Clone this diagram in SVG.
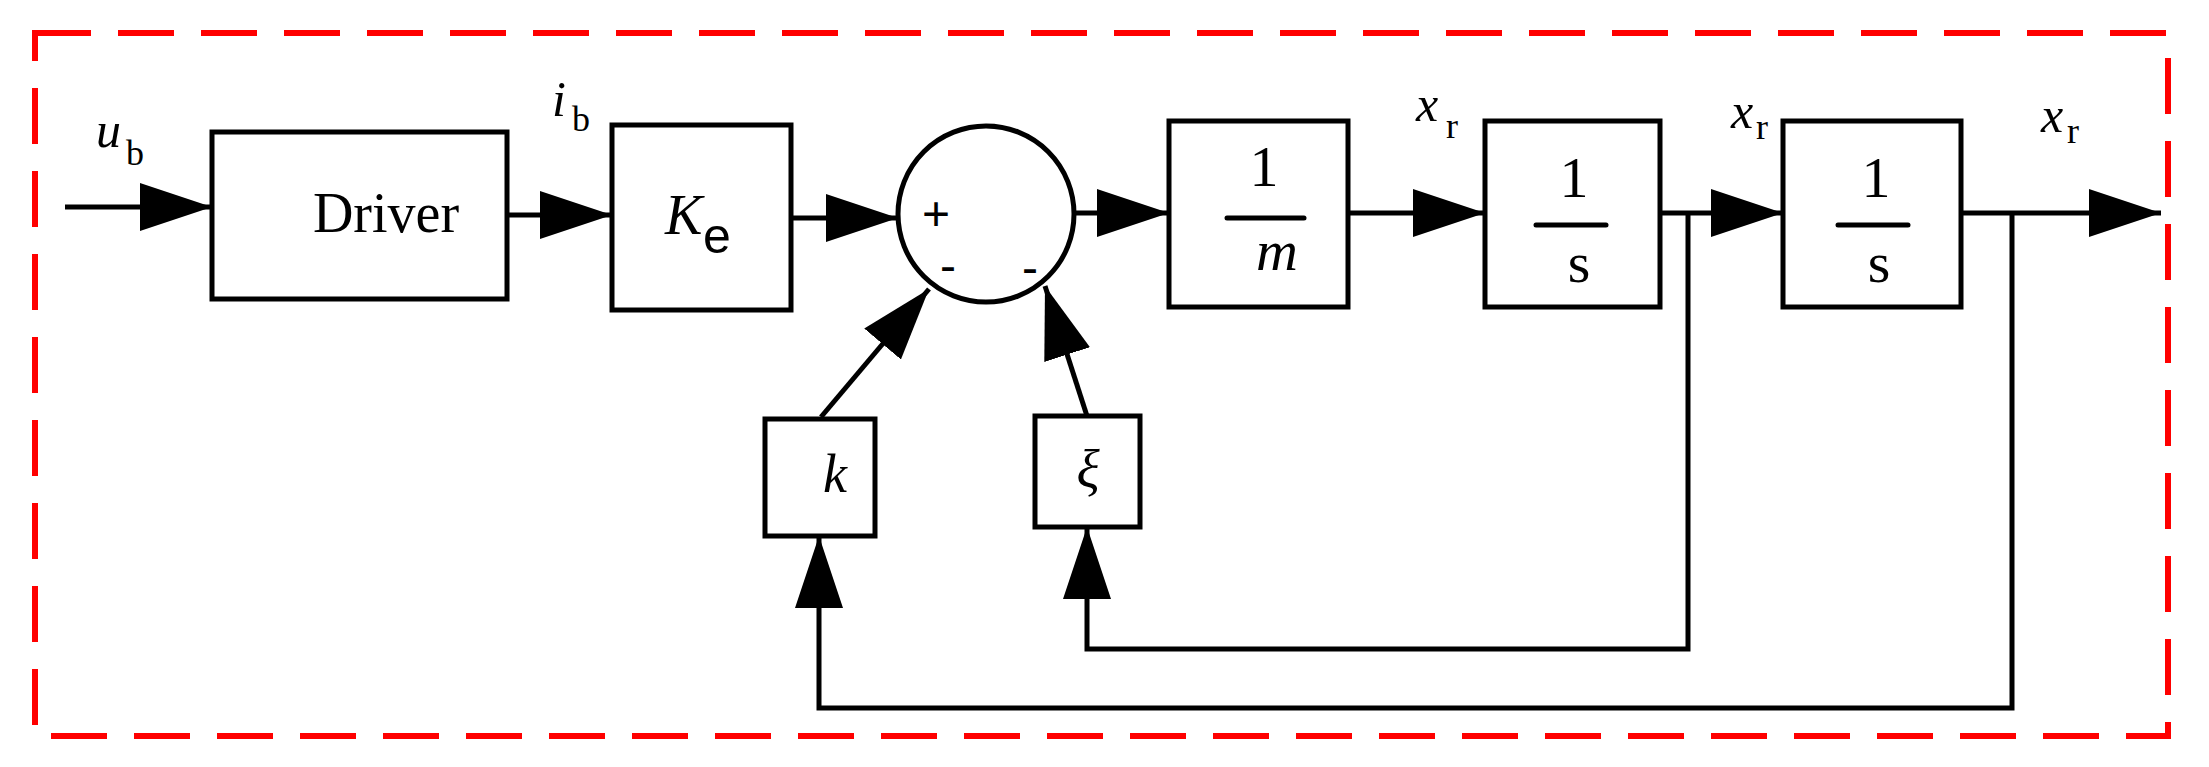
<svg xmlns="http://www.w3.org/2000/svg" width="2209" height="767" viewBox="0 0 2209 767">
<style>
.b{fill:#fff;stroke:#000;stroke-width:5}
.w{fill:none;stroke:#000;stroke-width:5}
.t{font-family:"Liberation Serif",serif;fill:#000}
.i{font-style:italic}
.s{font-family:"Liberation Sans",sans-serif;fill:#000}
</style>
<defs>
<marker id="a" markerUnits="userSpaceOnUse" markerWidth="74" markerHeight="50" refX="72" refY="24" orient="auto">
<path d="M0,0 L72,24 L0,48 z" fill="#000"/>
</marker>
</defs>
<rect x="35" y="33" width="2133" height="703" fill="none" stroke="#f00" stroke-width="6" stroke-dasharray="56 27"/>
<g id="connectors" class="w">
<line x1="65" y1="207" x2="212" y2="207" marker-end="url(#a)"/>
<line x1="507" y1="215" x2="612" y2="215" marker-end="url(#a)"/>
<line x1="791" y1="218" x2="898" y2="218" marker-end="url(#a)"/>
<line x1="1075" y1="213" x2="1169" y2="213" marker-end="url(#a)"/>
<line x1="1348" y1="213" x2="1485" y2="213" marker-end="url(#a)"/>
<line x1="1660" y1="213" x2="1783" y2="213" marker-end="url(#a)"/>
<line x1="1961" y1="213" x2="2161" y2="213" marker-end="url(#a)"/>
<line x1="821" y1="417" x2="929" y2="289" marker-end="url(#a)"/>
<line x1="1087" y1="416" x2="1045" y2="286" marker-end="url(#a)"/>
<polyline points="1688,213 1688,649 1087,649 1087,527" marker-end="url(#a)"/>
<polyline points="2012,213 2012,708 819,708 819,536" marker-end="url(#a)"/>
</g>
<g id="driver"><rect class="b" x="212" y="132" width="295" height="167"/><text class="t" x="386" y="232" font-size="56" text-anchor="middle">Driver</text></g>
<g id="ke"><rect class="b" x="612" y="125" width="179" height="185"/><text class="t i" x="665" y="234" font-size="56">K</text><text class="s" x="703" y="253" font-size="50">e</text></g>
<g id="sum"><circle class="b" cx="986" cy="214" r="88"/><text class="s" x="936" y="230" font-size="48" text-anchor="middle">+</text><text class="s" x="948" y="282" font-size="48" text-anchor="middle">-</text><text class="s" x="1030" y="284" font-size="48" text-anchor="middle">-</text></g>
<g id="m"><rect class="b" x="1169" y="121" width="179" height="186"/><text class="t" x="1264" y="186" font-size="58" text-anchor="middle">1</text><line class="w" x1="1227" y1="218" x2="1304" y2="218" stroke-linecap="round" stroke-width="6"/><text class="t i" x="1277" y="270" font-size="58" text-anchor="middle">m</text></g>
<g id="s1"><rect class="b" x="1485" y="121" width="175" height="186"/><text class="t" x="1574" y="197" font-size="58" text-anchor="middle">1</text><line class="w" x1="1536" y1="225" x2="1606" y2="225" stroke-linecap="round" stroke-width="6"/><text class="t" x="1579" y="282" font-size="58" text-anchor="middle">s</text></g>
<g id="s2"><rect class="b" x="1783" y="121" width="178" height="186"/><text class="t" x="1876" y="197" font-size="58" text-anchor="middle">1</text><line class="w" x1="1838" y1="225" x2="1908" y2="225" stroke-linecap="round" stroke-width="6"/><text class="t" x="1879" y="282" font-size="58" text-anchor="middle">s</text></g>
<g id="k"><rect class="b" x="765" y="419" width="110" height="117"/><text class="t i" x="835" y="492" font-size="54" text-anchor="middle">k</text></g>
<g id="xi"><rect class="b" x="1035" y="416" width="105" height="111"/><text class="t i" x="1088" y="488" font-size="54" text-anchor="middle">ξ</text></g>
<g id="labels" class="t">
<text class="i" x="96" y="147" font-size="50">u</text><text x="126" y="165" font-size="36">b</text>
<text class="i" x="552" y="116" font-size="50">i</text><text x="572" y="131" font-size="36">b</text>
<text class="i" x="1416" y="121" font-size="50">x</text><text x="1446" y="138" font-size="36">r</text>
<text class="i" x="1731" y="128" font-size="50">x</text><text x="1756" y="139" font-size="36">r</text>
<text class="i" x="2041" y="132" font-size="50">x</text><text x="2067" y="143" font-size="36">r</text>
</g>
</svg>
